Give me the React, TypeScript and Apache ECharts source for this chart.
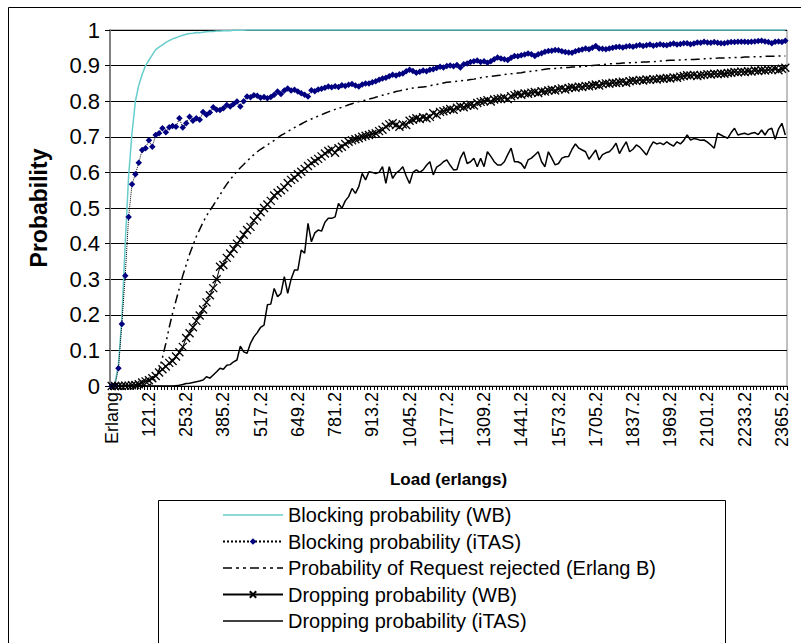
import React, { useEffect, useRef } from "react";
import * as echarts from "echarts";

const firstCategory = "Erlang";
const loadStart = 1.2;
const loadStep = 12;
const loadCount = 199;
const categories: string[] = [
  firstCategory,
  ...Array.from({ length: loadCount }, (_, k) => (loadStart + loadStep * k).toFixed(1)),
];

const seriesNames = [
  "Blocking probability (WB)",
  "Blocking probability (iTAS)",
  "Probability of Request rejected (Erlang B)",
  "Dropping probability (WB)",
  "Dropping probability (iTAS)",
];

const blockingWB = [
  0, 0.01, 0.06, 0.19, 0.4, 0.59, 0.71, 0.8, 0.845, 0.875,
  0.9, 0.915, 0.93, 0.945, 0.952, 0.958, 0.965, 0.97, 0.975, 0.978,
  0.982, 0.985, 0.988, 0.99, 0.991, 0.993, 0.992, 0.994, 0.995, 0.996,
  0.996, 0.997, 0.997, 0.998, 0.998, 0.998, 0.999, 0.999, 0.999, 0.999,
  1, 1, 1, 1, 1, 1, 1, 1, 1, 1,
  1, 1, 1, 1, 1, 1, 1, 1, 1, 1,
  1, 1, 1, 1, 1, 1, 1, 1, 1, 1,
  1, 1, 1, 1, 1, 1, 1, 1, 1, 1,
  1, 1, 1, 1, 1, 1, 1, 1, 1, 1,
  1, 1, 1, 1, 1, 1, 1, 1, 1, 1,
  1, 1, 1, 1, 1, 1, 1, 1, 1, 1,
  1, 1, 1, 1, 1, 1, 1, 1, 1, 1,
  1, 1, 1, 1, 1, 1, 1, 1, 1, 1,
  1, 1, 1, 1, 1, 1, 1, 1, 1, 1,
  1, 1, 1, 1, 1, 1, 1, 1, 1, 1,
  1, 1, 1, 1, 1, 1, 1, 1, 1, 1,
  1, 1, 1, 1, 1, 1, 1, 1, 1, 1,
  1, 1, 1, 1, 1, 1, 1, 1, 1, 1,
  1, 1, 1, 1, 1, 1, 1, 1, 1, 1,
  1, 1, 1, 1, 1, 1, 1, 1, 1, 1,
];

const blockingITAS = [
  0, 0.003, 0.05, 0.174, 0.31, 0.475, 0.567, 0.595, 0.627, 0.663,
  0.668, 0.69, 0.672, 0.705, 0.71, 0.724, 0.713, 0.727, 0.73, 0.728,
  0.752, 0.726, 0.738, 0.756, 0.745, 0.752, 0.748, 0.77, 0.762, 0.768,
  0.783, 0.776, 0.775, 0.78, 0.789, 0.785, 0.792, 0.799, 0.785, 0.8,
  0.813, 0.811, 0.817, 0.815, 0.81, 0.812, 0.808, 0.812, 0.818, 0.827,
  0.82, 0.83, 0.836, 0.83, 0.832, 0.827, 0.822, 0.818, 0.813, 0.831,
  0.828, 0.833, 0.835, 0.838, 0.841, 0.839, 0.842, 0.84, 0.845, 0.843,
  0.846, 0.848, 0.844, 0.841, 0.847, 0.85, 0.85, 0.853, 0.856, 0.86,
  0.864, 0.866, 0.87, 0.874, 0.872, 0.876, 0.878, 0.884, 0.888, 0.885,
  0.88, 0.883, 0.886, 0.884, 0.888, 0.89, 0.893, 0.897, 0.895, 0.899,
  0.9, 0.898, 0.902, 0.895, 0.904, 0.906, 0.91, 0.912, 0.914, 0.91,
  0.912, 0.908, 0.912, 0.918, 0.923, 0.92, 0.918, 0.916, 0.922, 0.927,
  0.926, 0.929, 0.931, 0.934, 0.932, 0.927, 0.932, 0.935, 0.939, 0.941,
  0.942, 0.944, 0.943, 0.94, 0.938, 0.937, 0.936, 0.94, 0.943, 0.945,
  0.948, 0.946, 0.95, 0.955, 0.948, 0.947, 0.946, 0.948, 0.95, 0.952,
  0.953, 0.951, 0.954, 0.955, 0.953, 0.956, 0.958, 0.955, 0.957, 0.959,
  0.956, 0.958, 0.96, 0.958, 0.957, 0.96, 0.962, 0.959, 0.961, 0.963,
  0.963, 0.96, 0.962, 0.965, 0.964, 0.967, 0.965, 0.964, 0.966, 0.964,
  0.963, 0.963, 0.965, 0.966, 0.966, 0.967, 0.967, 0.967, 0.966, 0.967,
  0.968, 0.969, 0.97, 0.968, 0.966, 0.963, 0.967, 0.968, 0.966, 0.97,
];

const erlangB = [
  0, 0, 0, 0, 0, 0, 0, 0, 0, 0,
  0, 0.002, 0.008, 0.02, 0.045, 0.08, 0.12, 0.165, 0.205, 0.24,
  0.275, 0.31, 0.34, 0.37, 0.395, 0.42, 0.44, 0.46, 0.478, 0.493,
  0.507, 0.522, 0.537, 0.553, 0.567, 0.58, 0.591, 0.603, 0.613, 0.622,
  0.632, 0.641, 0.65, 0.658, 0.665, 0.671, 0.677, 0.684, 0.69, 0.697,
  0.704, 0.709, 0.715, 0.72, 0.726, 0.731, 0.736, 0.741, 0.746, 0.75,
  0.754, 0.758, 0.762, 0.766, 0.77, 0.773, 0.777, 0.78, 0.783, 0.786,
  0.79, 0.793, 0.796, 0.799, 0.801, 0.803, 0.806, 0.808, 0.811, 0.814,
  0.817, 0.819, 0.822, 0.824, 0.827, 0.829, 0.831, 0.833, 0.836, 0.837,
  0.838, 0.839, 0.84, 0.841, 0.843, 0.846, 0.847, 0.849, 0.851, 0.853,
  0.854, 0.855, 0.856, 0.857, 0.858, 0.859, 0.861, 0.862, 0.864, 0.866,
  0.867, 0.869, 0.87, 0.871, 0.872, 0.873, 0.875, 0.876, 0.877, 0.878,
  0.879, 0.88, 0.882, 0.883, 0.884, 0.885, 0.887, 0.888, 0.89, 0.891,
  0.891, 0.892, 0.893, 0.894, 0.895, 0.895, 0.896, 0.896, 0.897, 0.897,
  0.898, 0.899, 0.9, 0.901, 0.902, 0.903, 0.904, 0.905, 0.905, 0.906,
  0.906, 0.907, 0.907, 0.908, 0.908, 0.909, 0.909, 0.91, 0.91, 0.911,
  0.911, 0.912, 0.913, 0.913, 0.914, 0.915, 0.915, 0.916, 0.916, 0.916,
  0.917, 0.917, 0.917, 0.918, 0.918, 0.919, 0.919, 0.92, 0.92, 0.921,
  0.921, 0.921, 0.922, 0.922, 0.923, 0.923, 0.923, 0.924, 0.924, 0.925,
  0.925, 0.925, 0.925, 0.926, 0.926, 0.926, 0.926, 0.927, 0.927, 0.927,
];

const droppingWB = [
  0, 0, 0, 0, 0.001, 0.001, 0.002, 0.003, 0.005, 0.01,
  0.013, 0.016, 0.022, 0.028, 0.038, 0.047, 0.055, 0.065, 0.07, 0.083,
  0.095, 0.11, 0.135, 0.148, 0.165, 0.183, 0.198, 0.215, 0.235, 0.255,
  0.275, 0.3, 0.335, 0.34, 0.36, 0.372, 0.385, 0.4, 0.41, 0.425,
  0.438, 0.447, 0.465, 0.476, 0.488, 0.5, 0.51, 0.52, 0.535, 0.543,
  0.55, 0.558, 0.57, 0.579, 0.585, 0.595, 0.602, 0.61, 0.618, 0.626,
  0.632, 0.638, 0.645, 0.653, 0.66, 0.664, 0.655, 0.668, 0.672, 0.68,
  0.686, 0.69, 0.693, 0.696, 0.7, 0.703, 0.705, 0.708, 0.71, 0.716,
  0.72, 0.728, 0.735, 0.738, 0.733, 0.728, 0.735, 0.733, 0.745, 0.748,
  0.752, 0.75, 0.755, 0.752, 0.756, 0.766, 0.762, 0.77, 0.772, 0.775,
  0.778, 0.776, 0.782, 0.785, 0.783, 0.787, 0.79, 0.788, 0.795, 0.798,
  0.8, 0.803, 0.799, 0.805, 0.806, 0.808, 0.81, 0.806, 0.814, 0.817,
  0.82, 0.818, 0.822, 0.821, 0.824, 0.826, 0.823, 0.828, 0.827, 0.83,
  0.832, 0.83, 0.834, 0.836, 0.833, 0.837, 0.839, 0.838, 0.841, 0.84,
  0.843, 0.842, 0.845, 0.847, 0.844, 0.848, 0.85, 0.849, 0.852, 0.851,
  0.853, 0.855, 0.852, 0.856, 0.858, 0.857, 0.86, 0.858, 0.861, 0.86,
  0.862, 0.861, 0.864, 0.863, 0.865, 0.864, 0.867, 0.866, 0.869, 0.871,
  0.873, 0.872, 0.874, 0.871, 0.873, 0.874, 0.876, 0.875, 0.877, 0.876,
  0.878, 0.877, 0.879, 0.88, 0.882, 0.881, 0.883, 0.882, 0.884, 0.883,
  0.886, 0.885, 0.887, 0.886, 0.888, 0.888, 0.89, 0.887, 0.891, 0.894,
];

const droppingITAS = [
  0, 0, 0, 0, 0, 0, 0, 0, 0, 0,
  0, 0, 0, 0, 0, 0, 0, 0, 0, 0.001,
  0.002, 0.004, 0.007, 0.008, 0.01, 0.012, 0.014, 0.017, 0.026, 0.022,
  0.031, 0.04, 0.05, 0.047, 0.058, 0.06, 0.068, 0.073, 0.112, 0.096,
  0.092, 0.12, 0.138, 0.15, 0.165, 0.171, 0.228, 0.23, 0.274, 0.251,
  0.26, 0.307, 0.26, 0.3, 0.326, 0.326, 0.382, 0.373, 0.457, 0.405,
  0.43, 0.438, 0.435, 0.46, 0.471, 0.471, 0.475, 0.513, 0.499, 0.52,
  0.532, 0.555, 0.541, 0.56, 0.597, 0.579, 0.602, 0.6, 0.597, 0.6,
  0.616, 0.569, 0.616, 0.583, 0.598, 0.605, 0.616, 0.59, 0.569, 0.6,
  0.607, 0.6, 0.607, 0.62, 0.63, 0.593, 0.615, 0.621, 0.63, 0.635,
  0.62, 0.607, 0.608, 0.64, 0.658, 0.625, 0.63, 0.64, 0.616, 0.64,
  0.616, 0.658, 0.645, 0.63, 0.621, 0.621, 0.63, 0.65, 0.668, 0.63,
  0.63, 0.625, 0.611, 0.635, 0.64, 0.649, 0.658, 0.63, 0.616, 0.658,
  0.64, 0.621, 0.625, 0.64, 0.644, 0.645, 0.665, 0.68, 0.668, 0.663,
  0.658, 0.637, 0.65, 0.663, 0.635, 0.65, 0.655, 0.658, 0.668, 0.682,
  0.653, 0.67, 0.686, 0.658, 0.665, 0.677, 0.671, 0.66, 0.649, 0.67,
  0.686, 0.68, 0.683, 0.678, 0.686, 0.679, 0.674, 0.686, 0.68, 0.69,
  0.705, 0.691, 0.695, 0.693, 0.69, 0.691, 0.685, 0.677, 0.668, 0.71,
  0.705, 0.7, 0.696, 0.712, 0.724, 0.705, 0.708, 0.71, 0.706, 0.71,
  0.712, 0.706, 0.719, 0.705, 0.72, 0.724, 0.693, 0.722, 0.738, 0.705,
];

const FONT = '"Liberation Sans", Arial, sans-serif';

const solidIcon = "path://M0,0H60V1.6H0Z";
const thinIcon = "path://M0,0H60V1H0Z";
const dashDotIcon =
  "path://M0,0h9v1.6h-9zM13,0h3v1.6h-3zM20,0h3v1.6h-3zM27,0h9v1.6h-9zM40,0h3v1.6h-3zM47,0h3v1.6h-3zM54,0h6v1.6h-6z";

export default function App() {
  const ref = useRef<HTMLDivElement>(null);
  useEffect(() => {
    if (!ref.current) return;
    const chart = echarts.init(ref.current, null, { renderer: "svg" });
    chart.setOption({
      animation: false,
      backgroundColor: "#fff",
      textStyle: { fontFamily: FONT },
      grid: {
        left: 110,
        right: 14,
        top: 30,
        bottom: 257,
        show: true,
        borderColor: "#808080",
        borderWidth: 1,
      },
      graphic: [
        {
          type: "rect",
          silent: true,
          shape: { x: 8.5, y: 7.5, width: 900, height: 800 },
          style: { fill: "none", stroke: "#000", lineWidth: 1 },
        },
        {
          type: "rect",
          silent: true,
          shape: { x: 158.5, y: 500.5, width: 567, height: 300 },
          style: { fill: "none", stroke: "#000", lineWidth: 1 },
        },
      ],
      legend: {
        orient: "vertical",
        left: 222,
        top: 505,
        padding: 0,
        itemWidth: 60,
        itemHeight: 8,
        itemGap: 6.5,
        symbolKeepAspect: true,
        textStyle: { fontSize: 20, color: "#000", fontFamily: FONT, lineHeight: 20 },
        data: [
          { name: seriesNames[0], icon: solidIcon },
          { name: seriesNames[1] },
          { name: seriesNames[2], icon: dashDotIcon },
          { name: seriesNames[3] },
          { name: seriesNames[4], icon: solidIcon },
        ],
      },
      xAxis: {
        type: "category",
        data: categories,
        boundaryGap: true,
        name: "Load (erlangs)",
        nameLocation: "middle",
        nameGap: 85,
        nameTextStyle: { fontWeight: "bold", fontSize: 17, color: "#000", fontFamily: FONT },
        axisLine: { lineStyle: { color: "#000", width: 1 } },
        axisTick: { show: true, interval: 0, length: 4, lineStyle: { color: "#000" } },
        axisLabel: { interval: 10, rotate: 90, fontSize: 18, color: "#000", margin: 6, fontFamily: FONT },
        splitLine: { show: false },
      },
      yAxis: {
        type: "value",
        min: 0,
        max: 1,
        interval: 0.1,
        name: "Probability",
        nameLocation: "middle",
        nameGap: 60,
        nameRotate: 90,
        nameTextStyle: { fontWeight: "bold", fontSize: 23, color: "#000", fontFamily: FONT },
        axisLine: { show: true, lineStyle: { color: "#808080", width: 2 } },
        axisTick: { show: true, length: 5, lineStyle: { color: "#000" } },
        axisLabel: { fontSize: 22, color: "#000", margin: 10, fontFamily: FONT },
        splitLine: { show: true, lineStyle: { color: "#000", width: 1 } },
      },
      series: [
        {
          name: seriesNames[0],
          type: "line",
          data: blockingWB,
          symbol: "none",
          lineStyle: { color: "#66CCCC", width: 1.5 },
          itemStyle: { color: "#66CCCC" },
        },
        {
          name: seriesNames[1],
          type: "line",
          data: blockingITAS,
          symbol: "diamond",
          symbolSize: 6.5,
          showSymbol: true,
          showAllSymbol: true,
          lineStyle: { color: "#000", width: 1, type: "dotted" },
          itemStyle: { color: "#000080" },
        },
        {
          name: seriesNames[2],
          type: "line",
          data: erlangB,
          symbol: "none",
          lineStyle: { color: "#000", width: 1.5, type: [9, 4, 2, 4, 2, 4] },
          itemStyle: { color: "#000" },
        },
        {
          name: seriesNames[3],
          type: "line",
          data: droppingWB,
          symbol: "path://M0,0L10,10M10,0L0,10",
          symbolSize: 8,
          showSymbol: true,
          showAllSymbol: true,
          lineStyle: { color: "#000", width: 1 },
          itemStyle: { color: "#000", borderColor: "#000", borderWidth: 1.3 },
        },
        {
          name: seriesNames[4],
          type: "line",
          data: droppingITAS,
          symbol: "none",
          lineStyle: { color: "#000", width: 1.5 },
          itemStyle: { color: "#000" },
        },
      ],
    });
    return () => chart.dispose();
  }, []);
  return (
    <div
      ref={ref}
      style={{ position: "fixed", left: 0, top: 0, width: 801, height: 643, background: "#fff" }}
    />
  );
}
